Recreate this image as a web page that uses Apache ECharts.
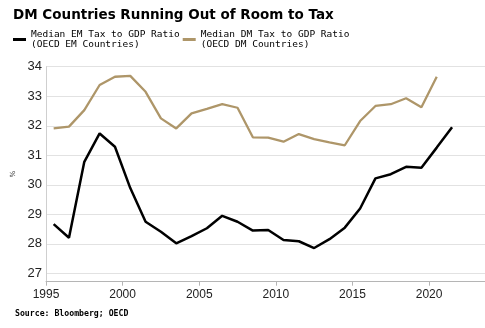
<!DOCTYPE html>
<html>
<head>
<meta charset="utf-8">
<script src="https://cdn.jsdelivr.net/npm/echarts@6/dist/echarts.min.js"></script>
<style>
  html, body { margin: 0; padding: 0; background: #fff; }
  #chart { width: 485px; height: 328px; }
</style>
</head>
<body>
<div id="chart"></div>
<script>
// Annual tax-to-GDP medians, plotted at mid-year
const years = [1995, 1996, 1997, 1998, 1999, 2000, 2001, 2002, 2003, 2004, 2005, 2006, 2007, 2008,
               2009, 2010, 2011, 2012, 2013, 2014, 2015, 2016, 2017, 2018, 2019, 2020, 2021];
const emRatio = [28.67, 28.21, 30.78, 31.74, 31.29, 29.89, 28.75, 28.41, 28.02, 28.26, 28.53, 28.95, 28.75, 28.45,
                 28.47, 28.13, 28.09, 27.86, 28.16, 28.55, 29.20, 30.22, 30.36, 30.61, 30.58, 31.26, 31.95];
const dmRatio = [31.91, 31.97, 32.53, 33.38, 33.66, 33.69, 33.15, 32.25, 31.91, 32.42, 32.57, 32.73, 32.61, 31.61,
                 31.60, 31.46, 31.72, 31.55, 31.44, 31.34, 32.16, 32.67, 32.73, 32.93, 32.63, 33.66];
const xTicks = [1995, 2000, 2005, 2010, 2015, 2020];
const yTicks = [27, 28, 29, 30, 31, 32, 33, 34];

const emName = 'Median EM Tax to GDP Ratio\n(OECD EM Countries)';
const dmName = 'Median DM Tax to GDP Ratio\n(OECD DM Countries)';

const toPoints = vals => vals.map((v, i) => [years[i] + 0.5, v]);

const chart = echarts.init(document.getElementById('chart'), null, { renderer: 'canvas' });
chart.setOption({
  animation: false,
  backgroundColor: '#fff',
  title: {
    text: 'DM Countries Running Out of Room to Tax',
    left: 13, top: 8, padding: 0,
    textStyle: { fontFamily: 'DejaVu Sans', fontWeight: 'bold', fontSize: 13.5, color: '#000' }
  },
  legend: {
    left: 13, top: 29, padding: 0,
    itemWidth: 13, itemHeight: 3, itemGap: 3,
    icon: 'rect',
    data: [emName, dmName],
    textStyle: { fontFamily: 'DejaVu Sans Mono', fontSize: 9.5, lineHeight: 10.5, color: '#000' }
  },
  graphic: [{
    type: 'text', left: 15, top: 310,
    style: { text: 'Source: Bloomberg; OECD', font: 'bold 8.2px "DejaVu Sans Mono"', fill: '#000' }
  }],
  grid: { left: 46, right: 0, top: 66.7, bottom: 46.3, containLabel: false },
  xAxis: {
    type: 'value', min: 1995, max: 2023.65, interval: 5,
    axisLine: { show: true, lineStyle: { color: '#b5b5b5', width: 1 } },
    axisTick: { show: true, length: 4, lineStyle: { color: '#b5b5b5' }, customValues: xTicks },
    axisLabel: {
      customValues: xTicks, margin: 7,
      fontFamily: 'Liberation Sans', fontSize: 12, color: '#222',
      formatter: v => String(v)
    },
    splitLine: { show: false }
  },
  yAxis: {
    type: 'value', min: 26.72, max: 34, minInterval: 1, maxInterval: 1,
    name: '%', nameLocation: 'middle', nameGap: 25, nameRotate: 90,
    nameTextStyle: { fontFamily: 'DejaVu Sans', fontSize: 7, color: '#333' },
    axisLine: { show: true, lineStyle: { color: '#cfcfcf', width: 1 } },
    axisTick: { show: false },
    axisLabel: {
      customValues: yTicks, margin: 4,
      fontFamily: 'Liberation Sans', fontSize: 13, color: '#222',
      formatter: v => String(v)
    },
    splitLine: { show: true, lineStyle: { color: '#e2e2e2', width: 1 } }
  },
  series: [
    {
      name: emName, type: 'line', data: toPoints(emRatio),
      showSymbol: false, color: '#000',
      lineStyle: { color: '#000', width: 2.5 }, z: 3
    },
    {
      name: dmName, type: 'line', data: toPoints(dmRatio),
      showSymbol: false, color: '#ae9669',
      lineStyle: { color: '#ae9669', width: 2.3 }, z: 2
    }
  ]
});
</script>
</body>
</html>
